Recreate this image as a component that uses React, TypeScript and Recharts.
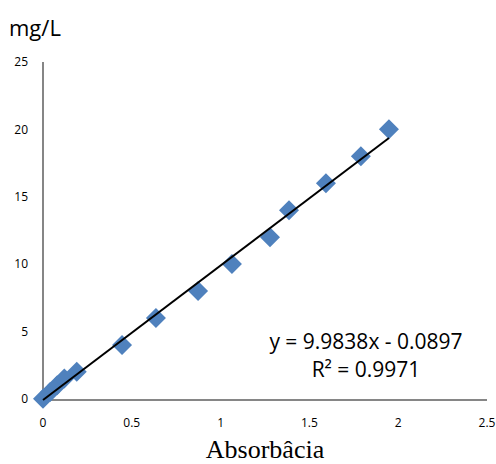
import { ScatterChart, Scatter, XAxis, YAxis } from 'recharts';

const absorbance = [0, 0.04, 0.08, 0.12, 0.19, 0.445, 0.636, 0.873, 1.064, 1.278, 1.385, 1.593, 1.79, 1.948];
const concentration = [0, 0.5, 1, 1.5, 2, 4, 6, 8, 10, 12, 14, 16, 18, 20];
const xTicks = [0, 0.5, 1, 1.5, 2, 2.5];
const yTicks = [0, 5, 10, 15, 20, 25];
const slope = 9.9838;
const intercept = -0.0897;

const points = absorbance.map((x, i) => ({ x, y: concentration[i] }));
const xMin = Math.min(...absorbance);
const xMax = Math.max(...absorbance);
const trend = [
  { x: xMin, y: slope * xMin + intercept },
  { x: xMax, y: slope * xMax + intercept },
];

const Diamond = (props: any) => {
  const { cx, cy } = props;
  const r = 10;
  return (
    <polygon
      points={`${cx},${cy - r} ${cx + r},${cy} ${cx},${cy + r} ${cx - r},${cy}`}
      fill="#4F81BD"
    />
  );
};

const NoShape = () => <g />;

const labelFont = '"Open Sans", "Noto Sans", sans-serif';

export default function App() {
  return (
    <div style={{ position: 'absolute', left: 0, top: 0, width: 496, height: 464, background: '#fff' }}>
      <ScatterChart width={496} height={464} margin={{ top: 62, right: 9, bottom: 34, left: 0 }}>
        <XAxis
          type="number"
          dataKey="x"
          domain={[0, 2.5]}
          ticks={xTicks}
          tickLine={false}
          tickSize={6}
          tickMargin={12}
          height={30}
          axisLine={{ stroke: '#868686', strokeWidth: 2 }}
          tick={{ fill: '#000', fontSize: 12, fontFamily: labelFont }}
        />
        <YAxis
          type="number"
          dataKey="y"
          domain={[0, 25]}
          ticks={yTicks}
          tickLine={false}
          tickSize={6}
          tickMargin={9}
          width={43}
          axisLine={{ stroke: '#868686', strokeWidth: 2 }}
          tick={{ fill: '#000', fontSize: 12, fontFamily: labelFont }}
        />
        <Scatter data={points} shape={<Diamond />} isAnimationActive={false} />
        <Scatter
          data={trend}
          line={{ stroke: '#000', strokeWidth: 2 }}
          shape={<NoShape />}
          isAnimationActive={false}
        />
      </ScatterChart>
      <div style={{ position: 'absolute', left: 9, top: 12, fontSize: 22, fontFamily: labelFont }}>mg/L</div>
      <div
        style={{
          position: 'absolute',
          left: 216,
          width: 300,
          top: 327,
          fontSize: 21,
          fontFamily: labelFont,
          textAlign: 'center',
          lineHeight: '28px',
        }}
      >
        <div>y = 9.9838x - 0.0897</div>
        <div>R² = 0.9971</div>
      </div>
      <div
        style={{
          position: 'absolute',
          left: 0,
          width: 530,
          top: 435,
          fontSize: 26,
          fontFamily: '"Liberation Serif", serif',
          textAlign: 'center',
        }}
      >
        Absorbâcia
      </div>
    </div>
  );
}
